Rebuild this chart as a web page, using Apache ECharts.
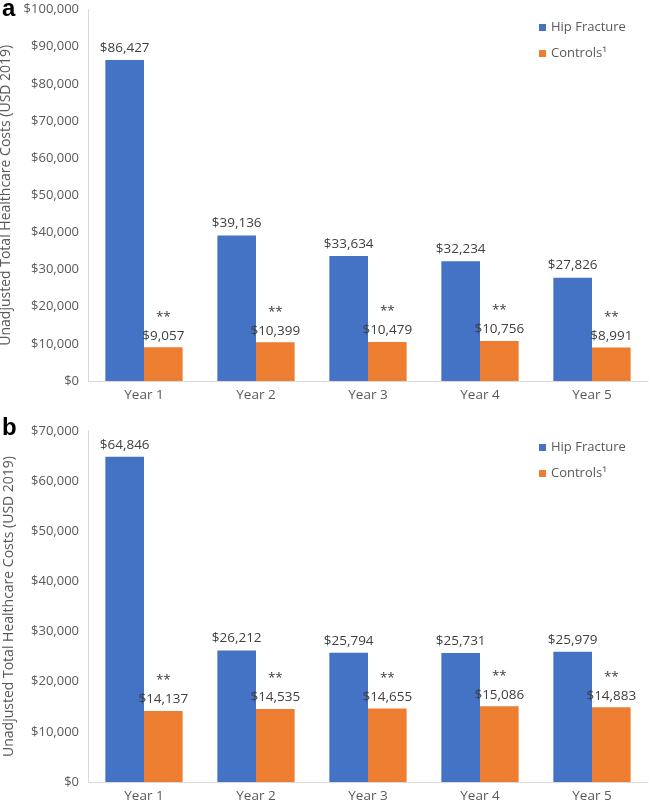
<!DOCTYPE html>
<html><head><meta charset="utf-8">
<script src="https://cdn.jsdelivr.net/npm/echarts@6/dist/echarts.min.js"></script>
<style>html,body{margin:0;padding:0;background:#fff}#c{width:649px;height:802px}</style>
</head><body><div id="c"></div>
<script>
const categories = ['Year 1','Year 2','Year 3','Year 4','Year 5'];
const hipA = [86427, 39136, 33634, 32234, 27826];
const ctrlA = [9057, 10399, 10479, 10756, 8991];
const hipB = [64846, 26212, 25794, 25731, 25979];
const ctrlB = [14137, 14535, 14655, 15086, 14883];
const seriesNames = ['Hip Fracture', 'Controls\u00b9'];
const yName = 'Unadjusted Total Healthcare Costs (USD 2019)';

const FONT = 'Open Sans';
const TXT = '#595959';
const fmt = v => '$' + v.toLocaleString('en-US');
const chart = echarts.init(document.getElementById('c'));

function xAx(i){return {type:'category',gridIndex:i,data:categories,
  axisLine:{lineStyle:{color:'#d9d9d9'}},axisTick:{show:false},
  axisLabel:{color:TXT,fontFamily:FONT,fontSize:13.5,margin:7}};}
function yAx(i,max){return {type:'value',gridIndex:i,min:0,max:max,interval:10000,
  name:yName,nameLocation:'middle',nameGap:72,nameRotate:90,
  nameTextStyle:{color:TXT,fontFamily:FONT,fontSize:14},
  axisLine:{show:true,lineStyle:{color:'#d9d9d9'}},axisTick:{show:false},splitLine:{show:false},
  axisLabel:{color:TXT,fontFamily:FONT,fontSize:13,margin:9,formatter:v=>fmt(v)}};}
function hip(i,data){return {type:'bar',name:seriesNames[0],xAxisIndex:i,yAxisIndex:i,data:data,
  itemStyle:{color:'#4472C4'},barGap:'0%',barCategoryGap:'31%',
  label:{show:true,position:'top',distance:5,color:'#404040',fontFamily:FONT,fontSize:13.5,formatter:p=>fmt(p.value)}};}
function ctrl(i,data){return {type:'bar',name:seriesNames[1],xAxisIndex:i,yAxisIndex:i,data:data,
  itemStyle:{color:'#ED7D31'},barGap:'0%',barCategoryGap:'31%',
  label:{show:true,position:'top',distance:2,color:'#404040',fontFamily:FONT,fontSize:13.5,lineHeight:19,
    formatter:p=>'**\n'+fmt(p.value)}};}
function leg(i,top){return {orient:'vertical',left:534,top:top,itemWidth:7,itemHeight:7,itemGap:13,
  icon:'rect',data:seriesNames.map(n=>({name:n})),
  textStyle:{color:TXT,fontFamily:FONT,fontSize:13}};}

chart.setOption({
  animation:false,
  grid:[{left:88,top:9.5,width:560,height:371.5,outerBoundsMode:'none',containLabel:false},
        {left:88,top:431,width:560,height:351,outerBoundsMode:'none',containLabel:false}],
  xAxis:[xAx(0),xAx(1)],
  yAxis:[yAx(0,100000),yAx(1,70000)],
  legend:[leg(0,16),leg(1,436)],
  series:[hip(0,hipA),ctrl(0,ctrlA),hip(1,hipB),ctrl(1,ctrlB)],
  graphic:[
    {type:'text',left:2,top:-3,style:{text:'a',font:'bold 24px Arial',fill:'#000'}},
    {type:'text',left:2,top:416,style:{text:'b',font:'bold 24px Arial',fill:'#000'}}
  ]
});
</script></body></html>
